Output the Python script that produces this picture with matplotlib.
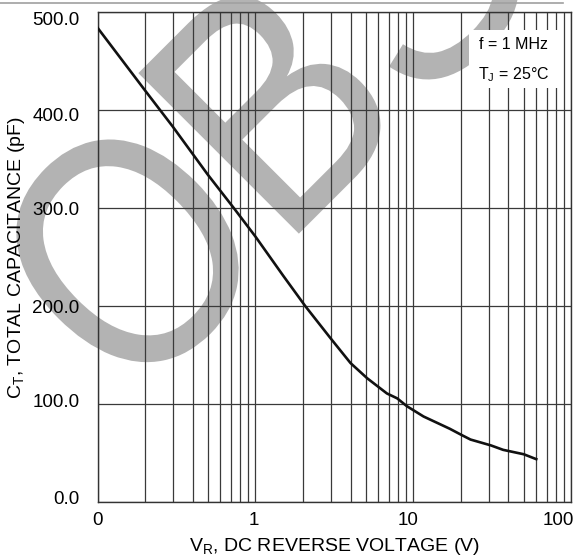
import matplotlib
matplotlib.use("Agg")
import matplotlib.pyplot as plt
from matplotlib.lines import Line2D
from matplotlib.patches import Rectangle, PathPatch
from matplotlib.textpath import TextPath
from matplotlib.font_manager import FontProperties
from matplotlib.transforms import ScaledTranslation, Affine2D
from matplotlib.ticker import FixedLocator, NullFormatter

# Daten
vr = [0.1, 0.2, 0.3, 0.5, 0.73, 1.0, 1.5, 2.07, 3.0, 4.0, 5.1, 6.8, 7.9, 9.1,
      11.6, 17, 20, 23, 31, 37, 50, 60]
ct = [484, 420, 383, 334, 300, 271, 231, 200, 167, 142, 126.5, 111, 106, 98,
      87.5, 75, 69, 64, 58, 53.5, 49, 44]

y_ticks = [0, 100, 200, 300, 400, 500]
x_ticks = [0.1, 1, 10, 100]
x_ticklabels = ['0', '1', '10', '100']
minor_x = [m * d for d in (0.1, 1, 10) for m in range(2, 10)]

plt.rcParams['font.family'] = ['Liberation Sans', 'DejaVu Sans']
plt.rcParams['mathtext.default'] = 'regular'

W, H = 574, 560
fig = plt.figure(figsize=(W / 100, H / 100), dpi=100)

# Achsen in Pixelkoordinaten
left, right, top, bottom = 97.5, 571.3, 12.0, 502.3
ax = fig.add_axes([left / W, 1 - bottom / H, (right - left) / W, (bottom - top) / H])
ax.set_facecolor('none')

# Wasserzeichen "OBS": schmale Schrift, 45 Grad gedreht, Buchstabenmitten in Pixeln
wm_font = FontProperties(family='Liberation Sans')
for letter, (px, py) in zip('OBS', [(128, 251), (272, 100), (405, -33)]):
    tp = TextPath((0, 0), letter, size=330, prop=wm_font)
    ext = tp.get_extents()
    cx, cy = (ext.x0 + ext.x1) / 2, (ext.y0 + ext.y1) / 2
    tr = (Affine2D().translate(-cx, -cy).scale(0.86, 1.0).rotate_deg(45)
          .translate(px, H - py))
    fig.add_artist(PathPatch(tp, transform=tr, facecolor='#b3b3b3',
                             edgecolor='none', zorder=-1))

ax.plot(vr, ct, color='#111111', lw=1.9, zorder=5)

ax.set_xscale('log')
ax.set_xlim(0.1, 100)
ax.set_ylim(0, 500)
ax.set_xticks(x_ticks)
ax.set_xticklabels(x_ticklabels)
ax.xaxis.set_minor_locator(FixedLocator(minor_x))
ax.xaxis.set_minor_formatter(NullFormatter())
ax.set_yticks(y_ticks)
ax.set_yticklabels([f'{v:.1f}' for v in y_ticks])

ax.grid(True, which='both', axis='x', color='#3a3a3a', lw=0.9)
ax.grid(True, which='major', axis='y', color='#3a3a3a', lw=0.9)
ax.tick_params(which='both', length=0)
ax.tick_params(axis='y', labelsize=13.5, pad=13)
ax.tick_params(axis='x', labelsize=13.5, pad=7)
for s in ax.spines.values():
    s.set_color('#333333')
    s.set_linewidth(1.0)

# Beschriftungen leicht verschoben wie im Original
for lab, dy in zip(ax.get_yticklabels(), [-4.8, -4, 0, 0.5, 4, 6.7]):
    lab.set_transform(lab.get_transform() + ScaledTranslation(0, -dy / 100, fig.dpi_scale_trans))
for lab, dx in zip(ax.get_xticklabels(), [0, -2, -5, -13]):
    lab.set_transform(lab.get_transform() + ScaledTranslation(dx / 100, 0, fig.dpi_scale_trans))

ax.set_xlabel('V$_R$, DC REVERSE VOLTAGE (V)', fontsize=14, labelpad=5)
ax.set_ylabel('C$_T$, TOTAL CAPACITANCE (pF)', fontsize=14, labelpad=4)

# Kasten mit Messbedingungen
bx0 = (469 - left) / (right - left)
by0 = (bottom - 88) / (bottom - top)
by1 = (bottom - 30) / (bottom - top)
ax.add_patch(Rectangle((bx0, by0), (560 - 469) / (right - left), by1 - by0,
                       transform=ax.transAxes, facecolor='white', edgecolor='none', zorder=3))
ax.text(513.5 / W, 1 - 49 / H, 'f = 1 MHz', transform=fig.transFigure,
        ha='center', va='baseline', fontsize=11.5, zorder=4)
ax.text(513.5 / W, 1 - 79 / H, 'T$_J$ = 25°C', transform=fig.transFigure,
        ha='center', va='baseline', fontsize=11.5, zorder=4)

# graue Linie oben
fig.add_artist(Line2D([0, 563 / W], [1 - 2.5 / H] * 2, transform=fig.transFigure,
                      color='#a0a0a0', lw=1.2))

fig.savefig('out.png', dpi=100)
